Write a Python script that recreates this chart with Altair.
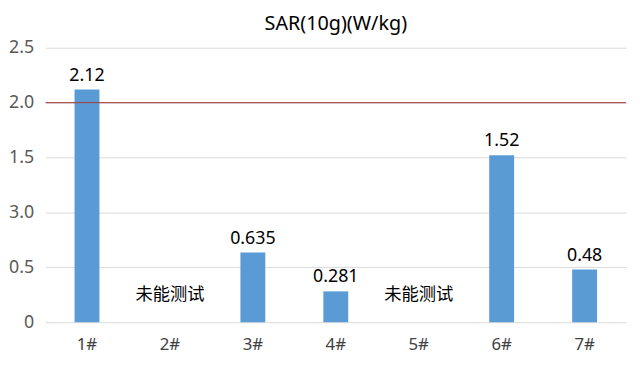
import altair as alt
import pandas as pd

categories = ["1#", "2#", "3#", "4#", "5#", "6#", "7#"]
values = [2.12, None, 0.635, 0.281, None, 1.52, 0.48]
value_labels = ["2.12", "", "0.635", "0.281", "", "1.52", "0.48"]
note_categories = ["2#", "5#"]
note_text = ["未能测试", "未能测试"]
note_level = [0.25, 0.25]
limit = [2.0]

df = pd.DataFrame({"cat": categories, "val": values, "lab": value_labels})
notes = pd.DataFrame({"cat": note_categories, "txt": note_text, "lvl": note_level})
lim = pd.DataFrame({"y": limit})

font = "Noto Sans, Noto Sans CJK SC"
xenc = alt.X("cat:N", sort=categories, scale=alt.Scale(paddingInner=0.7, paddingOuter=0.35),
             axis=alt.Axis(title=None, labelAngle=0, ticks=False, domain=False, labelPadding=15,
                           labelFontSize=17, labelColor="#404040", labelFont=font))
yscale = alt.Scale(domain=[0, 2.5], nice=False)

bars = alt.Chart(df).mark_bar(color="#5B9BD5").encode(
    x=xenc,
    y=alt.Y("val:Q", scale=yscale,
            axis=alt.Axis(title=None, values=[0, 0.5, 1, 1.5, 2, 2.5], ticks=False, domain=False,
                          gridColor="#D9D9D9", labelPadding=12, labelFontSize=18, labelColor="#595959",
                          labelFont=font,
                          labelExpr="datum.value == 1 ? '3.0' : datum.value == 0 ? '0' : format(datum.value, '.1f')")),
)

texts = alt.Chart(df).mark_text(baseline="bottom", dy=-5, fontSize=18, color="#000000", font=font).encode(
    x=alt.X("cat:N", sort=categories), y=alt.Y("val:Q", scale=yscale), text="lab:N"
)

note = alt.Chart(notes).mark_text(baseline="middle", fontSize=17.5, color="#000000",
                                  font="Noto Sans CJK SC").encode(
    x=alt.X("cat:N", sort=categories), y=alt.Y("lvl:Q", scale=yscale), text="txt:N"
)

rule = alt.Chart(lim).mark_rule(color="#A93A3A", strokeWidth=1).encode(y=alt.Y("y:Q", scale=yscale))

chart = alt.layer(bars, rule, texts, note).properties(
    width=588, height=278,
    title=alt.Title("SAR(10g)(W/kg)", fontSize=20, fontWeight="normal", font=font, color="#000000",
                    anchor="middle", offset=5),
    autosize=alt.AutoSizeParams(type="none"),
    padding={"left": 38, "top": 38, "right": 6, "bottom": 34},
).configure_view(stroke=None)

chart.save("out.html", embed_options={"renderer": "svg", "actions": False})
